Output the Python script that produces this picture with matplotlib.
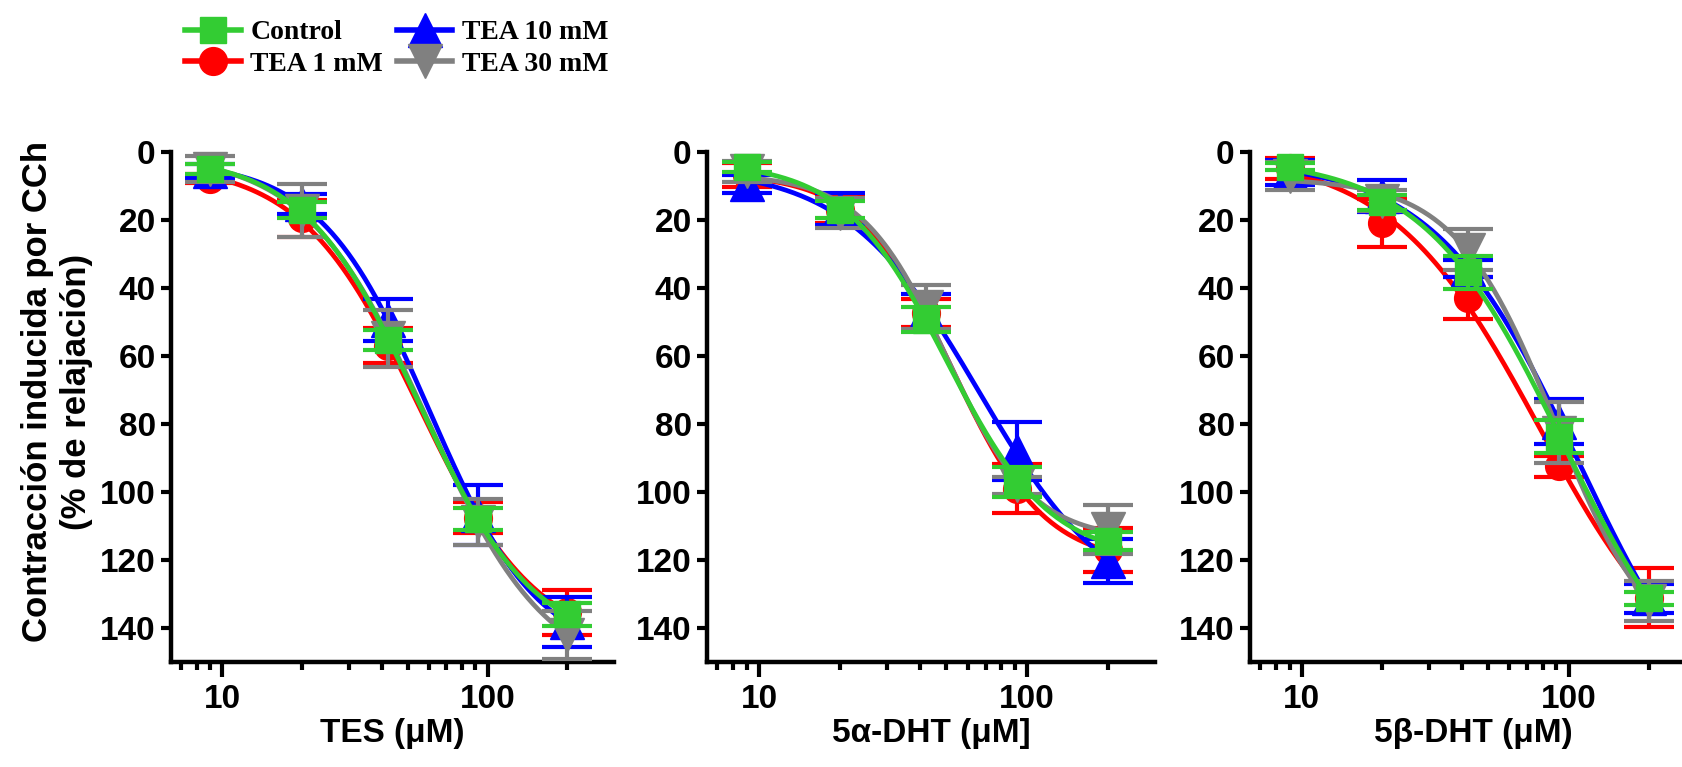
import numpy as np
import matplotlib
matplotlib.use("Agg")
import matplotlib.pyplot as plt
from matplotlib.lines import Line2D
from matplotlib.ticker import FixedLocator, NullFormatter

# concentrations (uM), same for the three panels
conc = [9, 20, 42, 92, 200]

series_names = ["Control", "TEA 1 mM", "TEA 10 mM", "TEA 30 mM"]
series_colors = ["#33cc33", "#ff0000", "#0000ff", "#808080"]
series_markers = ["s", "o", "^", "v"]

panel_xlabels = ["TES (\u03bcM)", "5\u03b1-DHT (\u03bcM]", "5\u03b2-DHT (\u03bcM)"]
ytick_values = [0, 20, 40, 60, 80, 100, 120, 140]

# TES panel: mean and SEM per group (% relaxation)
tes_control = [4.9, 17.1, 55.3, 108.0, 136.0]
tes_control_sem = [1.5, 2.3, 2.8, 3.2, 3.3]
tes_tea1 = [7.8, 19.5, 57.0, 107.5, 135.4]
tes_tea1_sem = [1.3, 5.5, 5.2, 4.5, 6.6]
tes_tea10 = [5.5, 15.3, 49.5, 106.7, 138.2]
tes_tea10_sem = [2.1, 2.8, 6.2, 8.9, 7.3]
tes_tea30 = [5.0, 17.3, 54.8, 108.8, 142.0]
tes_tea30_sem = [3.7, 7.8, 8.3, 6.8, 7.0]

# 5a-DHT panel
adht_control = [4.5, 17.0, 49.3, 97.0, 114.4]
adht_control_sem = [1.5, 2.5, 3.7, 4.4, 2.7]
adht_tea1 = [6.8, 17.0, 47.3, 99.0, 117.0]
adht_tea1_sem = [3.5, 4.0, 4.2, 7.3, 6.4]
adht_tea10 = [9.4, 16.8, 47.0, 88.0, 120.3]
adht_tea10_sem = [2.7, 4.7, 5.3, 8.5, 6.5]
adht_tea30 = [5.7, 18.0, 45.6, 98.0, 111.0]
adht_tea30_sem = [3.0, 4.4, 6.4, 2.5, 7.3]

# 5b-DHT panel
bdht_control = [4.3, 14.8, 35.4, 83.7, 131.3]
bdht_control_sem = [1.1, 2.2, 4.8, 4.9, 2.0]
bdht_tea1 = [4.8, 20.9, 42.9, 92.4, 131.1]
bdht_tea1_sem = [3.0, 7.0, 6.2, 3.1, 8.7]
bdht_tea10 = [6.0, 12.9, 34.3, 79.3, 131.3]
bdht_tea10_sem = [3.7, 4.7, 2.5, 6.7, 4.3]
bdht_tea30 = [7.0, 14.3, 28.7, 82.6, 132.1]
bdht_tea30_sem = [4.2, 3.2, 6.0, 9.0, 5.8]

panels = [
    [(tes_control, tes_control_sem), (tes_tea1, tes_tea1_sem),
     (tes_tea10, tes_tea10_sem), (tes_tea30, tes_tea30_sem)],
    [(adht_control, adht_control_sem), (adht_tea1, adht_tea1_sem),
     (adht_tea10, adht_tea10_sem), (adht_tea30, adht_tea30_sem)],
    [(bdht_control, bdht_control_sem), (bdht_tea1, bdht_tea1_sem),
     (bdht_tea10, bdht_tea10_sem), (bdht_tea30, bdht_tea30_sem)],
]

W, H = 1683, 767
plt.rcParams["font.family"] = ["Liberation Sans", "DejaVu Sans"]
plt.rcParams["font.weight"] = "bold"
plt.rcParams["axes.labelweight"] = "bold"


def fit_logistic(x, y):
    """Four-parameter logistic fit (grid over logEC50 / Hill slope, linear in bottom/span)."""
    lx = np.log10(np.asarray(x, float))
    y = np.asarray(y, float)
    cc, hh = np.meshgrid(np.linspace(0.5, 3.5, 301), np.linspace(0.3, 6.0, 115))
    cc = cc.ravel()[:, None]
    hh = hh.ravel()[:, None]
    s = 1.0 / (1.0 + 10 ** ((cc - lx) * hh))
    sm = s.mean(axis=1, keepdims=True)
    ds = s - sm
    with np.errstate(divide="ignore", invalid="ignore"):
        span = (ds * (y - y.mean())).sum(axis=1, keepdims=True) / (ds ** 2).sum(axis=1, keepdims=True)
    base = y.mean() - span * sm
    sse = ((base + span * s - y) ** 2).sum(axis=1)
    i = np.nanargmin(sse)
    return base[i, 0], span[i, 0], cc[i, 0], hh[i, 0]


def logistic(x, base, span, c, h):
    return base + span / (1.0 + 10 ** ((c - np.log10(x)) * h))


fig = plt.figure(figsize=(W / 100, H / 100), dpi=100)

# axes boxes in pixels: (left, width)
boxes = [(171, 443), (707, 448), (1250, 446)]
top_px, bottom_px = 152, 662
sizes = {"s": 19, "o": 20, "^": 25, "v": 25}
draw_order = [1, 2, 3, 0]  # control drawn last (on top)

for p, (left, width) in enumerate(boxes):
    ax = fig.add_axes([left / W, 1 - bottom_px / H, width / W, (bottom_px - top_px) / H])
    for k, i in enumerate(draw_order):
        y, err = panels[p][i]
        z = 3 + k * 3
        ax.errorbar(conc, y, yerr=err, fmt="none", ecolor=series_colors[i],
                    elinewidth=3, capsize=18, capthick=3, zorder=z, clip_on=False)
        b, s, c, h = fit_logistic(conc, y)
        xs = np.logspace(np.log10(conc[0]), np.log10(conc[-1]), 200)
        ax.plot(xs, logistic(xs, b, s, c, h), color=series_colors[i], lw=3.4,
                zorder=z + 1, clip_on=False)
        ax.plot(conc, y, ls="none", marker=series_markers[i], ms=sizes[series_markers[i]],
                color=series_colors[i], mec=series_colors[i], zorder=z + 2, clip_on=False)

    ax.set_xscale("log")
    ax.set_xlim(6.4, 300)
    ax.set_ylim(150, 0)
    ax.xaxis.set_major_locator(FixedLocator([10, 100]))
    ax.set_xticklabels(["10", "100"])
    ax.xaxis.set_minor_locator(FixedLocator([7, 8, 9, 20, 30, 40, 50, 60, 70, 80, 90, 200]))
    ax.xaxis.set_minor_formatter(NullFormatter())
    ax.set_yticks(ytick_values)
    for side in ("top", "right"):
        ax.spines[side].set_visible(False)
    for side in ("left", "bottom"):
        ax.spines[side].set_linewidth(3.2)
        ax.spines[side].set_capstyle("projecting")
    ax.tick_params(axis="y", length=7, width=3, labelsize=24, pad=4)
    ax.tick_params(axis="x", which="major", length=11, width=3, labelsize=24, pad=5)
    ax.tick_params(axis="x", which="minor", length=6, width=3)
    ax.set_xlabel(panel_xlabels[p], fontsize=24, fontweight="bold", labelpad=2)

fig.text(57 / W, 1 - 392 / H, "Contracción inducida por CCh\n(% de relajación)",
         rotation=90, ha="center", va="center", multialignment="center",
         fontsize=25, fontweight="bold")

handles = [Line2D([], [], color=series_colors[i], lw=4, marker=series_markers[i],
                  ms=sizes[series_markers[i]]) for i in range(4)]
fig.legend(handles=handles, labels=series_names, loc="upper left",
           bbox_to_anchor=(185 / W, 1 - 20 / H), ncol=2, frameon=False,
           prop={"family": "Liberation Serif", "weight": "bold", "size": 20},
           handlelength=2.0, handletextpad=0.35, columnspacing=0.5,
           labelspacing=0.22, borderpad=0, borderaxespad=0)

fig.savefig("out.png", dpi=100)
plt.close(fig)
